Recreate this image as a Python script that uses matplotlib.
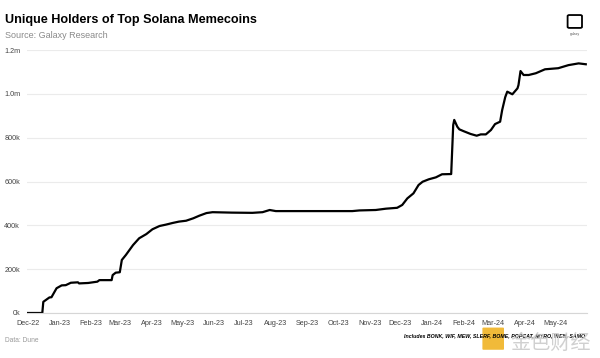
import matplotlib
matplotlib.use("Agg")
import matplotlib.pyplot as plt
import matplotlib.dates as mdates
from matplotlib.ticker import FuncFormatter
import pandas as pd
from matplotlib.patches import FancyBboxPatch

dates = ["2022-11-30", "2022-12-15", "2022-12-16", "2022-12-22", "2022-12-24", "2022-12-29",
         "2023-01-03", "2023-01-07", "2023-01-12", "2023-01-19", "2023-01-20", "2023-01-29",
         "2023-02-07", "2023-02-09", "2023-02-21", "2023-02-22", "2023-02-25", "2023-03-01",
         "2023-03-03", "2023-03-07", "2023-03-14", "2023-03-20", "2023-03-27", "2023-04-02",
         "2023-04-09", "2023-04-15", "2023-04-22", "2023-04-28", "2023-05-05", "2023-05-12",
         "2023-05-18", "2023-05-25", "2023-05-31", "2023-06-19", "2023-07-09", "2023-07-19",
         "2023-07-26", "2023-08-01", "2023-10-15", "2023-10-22", "2023-11-07", "2023-11-17",
         "2023-11-28", "2023-12-03", "2023-12-08", "2023-12-14", "2023-12-19", "2023-12-23",
         "2023-12-29", "2024-01-05", "2024-01-11", "2024-01-20", "2024-01-22", "2024-01-23",
         "2024-01-26", "2024-01-28", "2024-02-01", "2024-02-08", "2024-02-14", "2024-02-18",
         "2024-02-23", "2024-02-28", "2024-03-03", "2024-03-08", "2024-03-10", "2024-03-13",
         "2024-03-15", "2024-03-20", "2024-03-25", "2024-03-26", "2024-03-28", "2024-03-31",
         "2024-04-05", "2024-04-12", "2024-04-21", "2024-05-04", "2024-05-14", "2024-05-24",
         "2024-05-31"]
holders = [0, 0, 51000, 71000, 72000, 113000,
           126000, 127000, 138000, 140000, 135000, 137000,
           143000, 150000, 150000, 173000, 184000, 186000,
           242000, 265000, 310000, 341000, 360000, 382000,
           397000, 403000, 411000, 417000, 421000, 432000,
           444000, 456000, 460000, 458000, 457000, 460000,
           470000, 465000, 465000, 468000, 470000, 476000,
           480000, 493000, 523000, 546000, 584000, 599000,
           610000, 619000, 633000, 634000, 858000, 881000,
           850000, 838000, 830000, 817000, 809000, 815000,
           815000, 835000, 862000, 873000, 926000, 985000,
           1010000, 998000, 1025000, 1040000, 1104000, 1086000,
           1086000, 1094000, 1112000, 1117000, 1131000, 1139000,
           1135000]

yticks = [0, 200000, 400000, 600000, 800000, 1000000, 1200000]
month_ticks = ["2022-12-01", "2023-01-01", "2023-02-01", "2023-03-01", "2023-04-01",
               "2023-05-01", "2023-06-01", "2023-07-01", "2023-08-01", "2023-09-01",
               "2023-10-01", "2023-11-01", "2023-12-01", "2024-01-01", "2024-02-01",
               "2024-03-01", "2024-04-01", "2024-05-01"]

title = "Unique Holders of Top Solana Memecoins"
subtitle = "Source: Galaxy Research"
source = "Data: Dune"
note = "Includes BONK, WIF, MEW, SLERF, BOME, POPCAT, MYRO, WEN, SAMO"

font = ["Liberation Sans", "DejaVu Sans"]

fig = plt.figure(figsize=(6.0, 3.58), dpi=100)
ax = fig.add_axes([0.045, 0.1257, 0.933, 0.7346])

x = pd.to_datetime(dates)
ax.plot(x, holders, color="black", lw=1.6, solid_joinstyle="round")

ax.set_xlim(pd.Timestamp("2022-11-30"), pd.Timestamp("2024-06-01"))
ax.set_ylim(0, 1200000)
ax.set_yticks(yticks)

def yfmt(v, pos):
    if v >= 1000000:
        return f"{v/1e6:.1f}m"
    return f"{v/1000:.0f}k"

ax.yaxis.set_major_formatter(FuncFormatter(yfmt))
ax.set_xticks(pd.to_datetime(month_ticks))
ax.xaxis.set_major_formatter(mdates.DateFormatter("%b-%y"))

ax.grid(axis="y", color="#ebebeb", lw=0.8)
ax.set_axisbelow(True)
for s in ["top", "right", "left"]:
    ax.spines[s].set_visible(False)
ax.spines["bottom"].set_color("#d6d6d6")
ax.spines["bottom"].set_linewidth(0.8)
ax.tick_params(axis="both", length=0, labelsize=5.2, colors="#444444")
ax.tick_params(axis="x", pad=5)
ax.tick_params(axis="y", pad=5)
for lab in ax.get_xticklabels() + ax.get_yticklabels():
    lab.set_family(font)

fig.text(0.008, 0.935, title, fontsize=9.1, fontweight="bold", family=font, color="black",
         va="baseline")
fig.text(0.008, 0.893, subtitle, fontsize=6.5, family=font, color="#8a8a8a", va="baseline")
fig.text(0.008, 0.045, source, fontsize=4.8, family=font, color="#9a9a9a", va="baseline")
fig.text(0.975, 0.058, note, fontsize=3.8, family=font, fontweight="bold", style="italic",
         color="black", ha="right", va="baseline")

# watermark
fig.text(0.917, 0.042, "金色财经", fontsize=14.5, family=["Noto Sans CJK SC", "DejaVu Sans"],
         color="#c8c8c8", ha="center", va="center", alpha=0.85)
fig.patches.append(FancyBboxPatch((0.806, 0.025), 0.032, 0.058, boxstyle="round,pad=0.002",
                                  transform=fig.transFigure, facecolor="#f0b323",
                                  edgecolor="none", alpha=0.9))

# logo
fig.patches.append(FancyBboxPatch((0.949, 0.925), 0.018, 0.03, boxstyle="round,pad=0.003",
                                  transform=fig.transFigure, facecolor="none",
                                  edgecolor="black", lw=1.3))
fig.text(0.958, 0.905, "galaxy", fontsize=2.5, family=font, color="#555555", ha="center",
         va="center")

fig.savefig("out.png", dpi=100, facecolor="white")
